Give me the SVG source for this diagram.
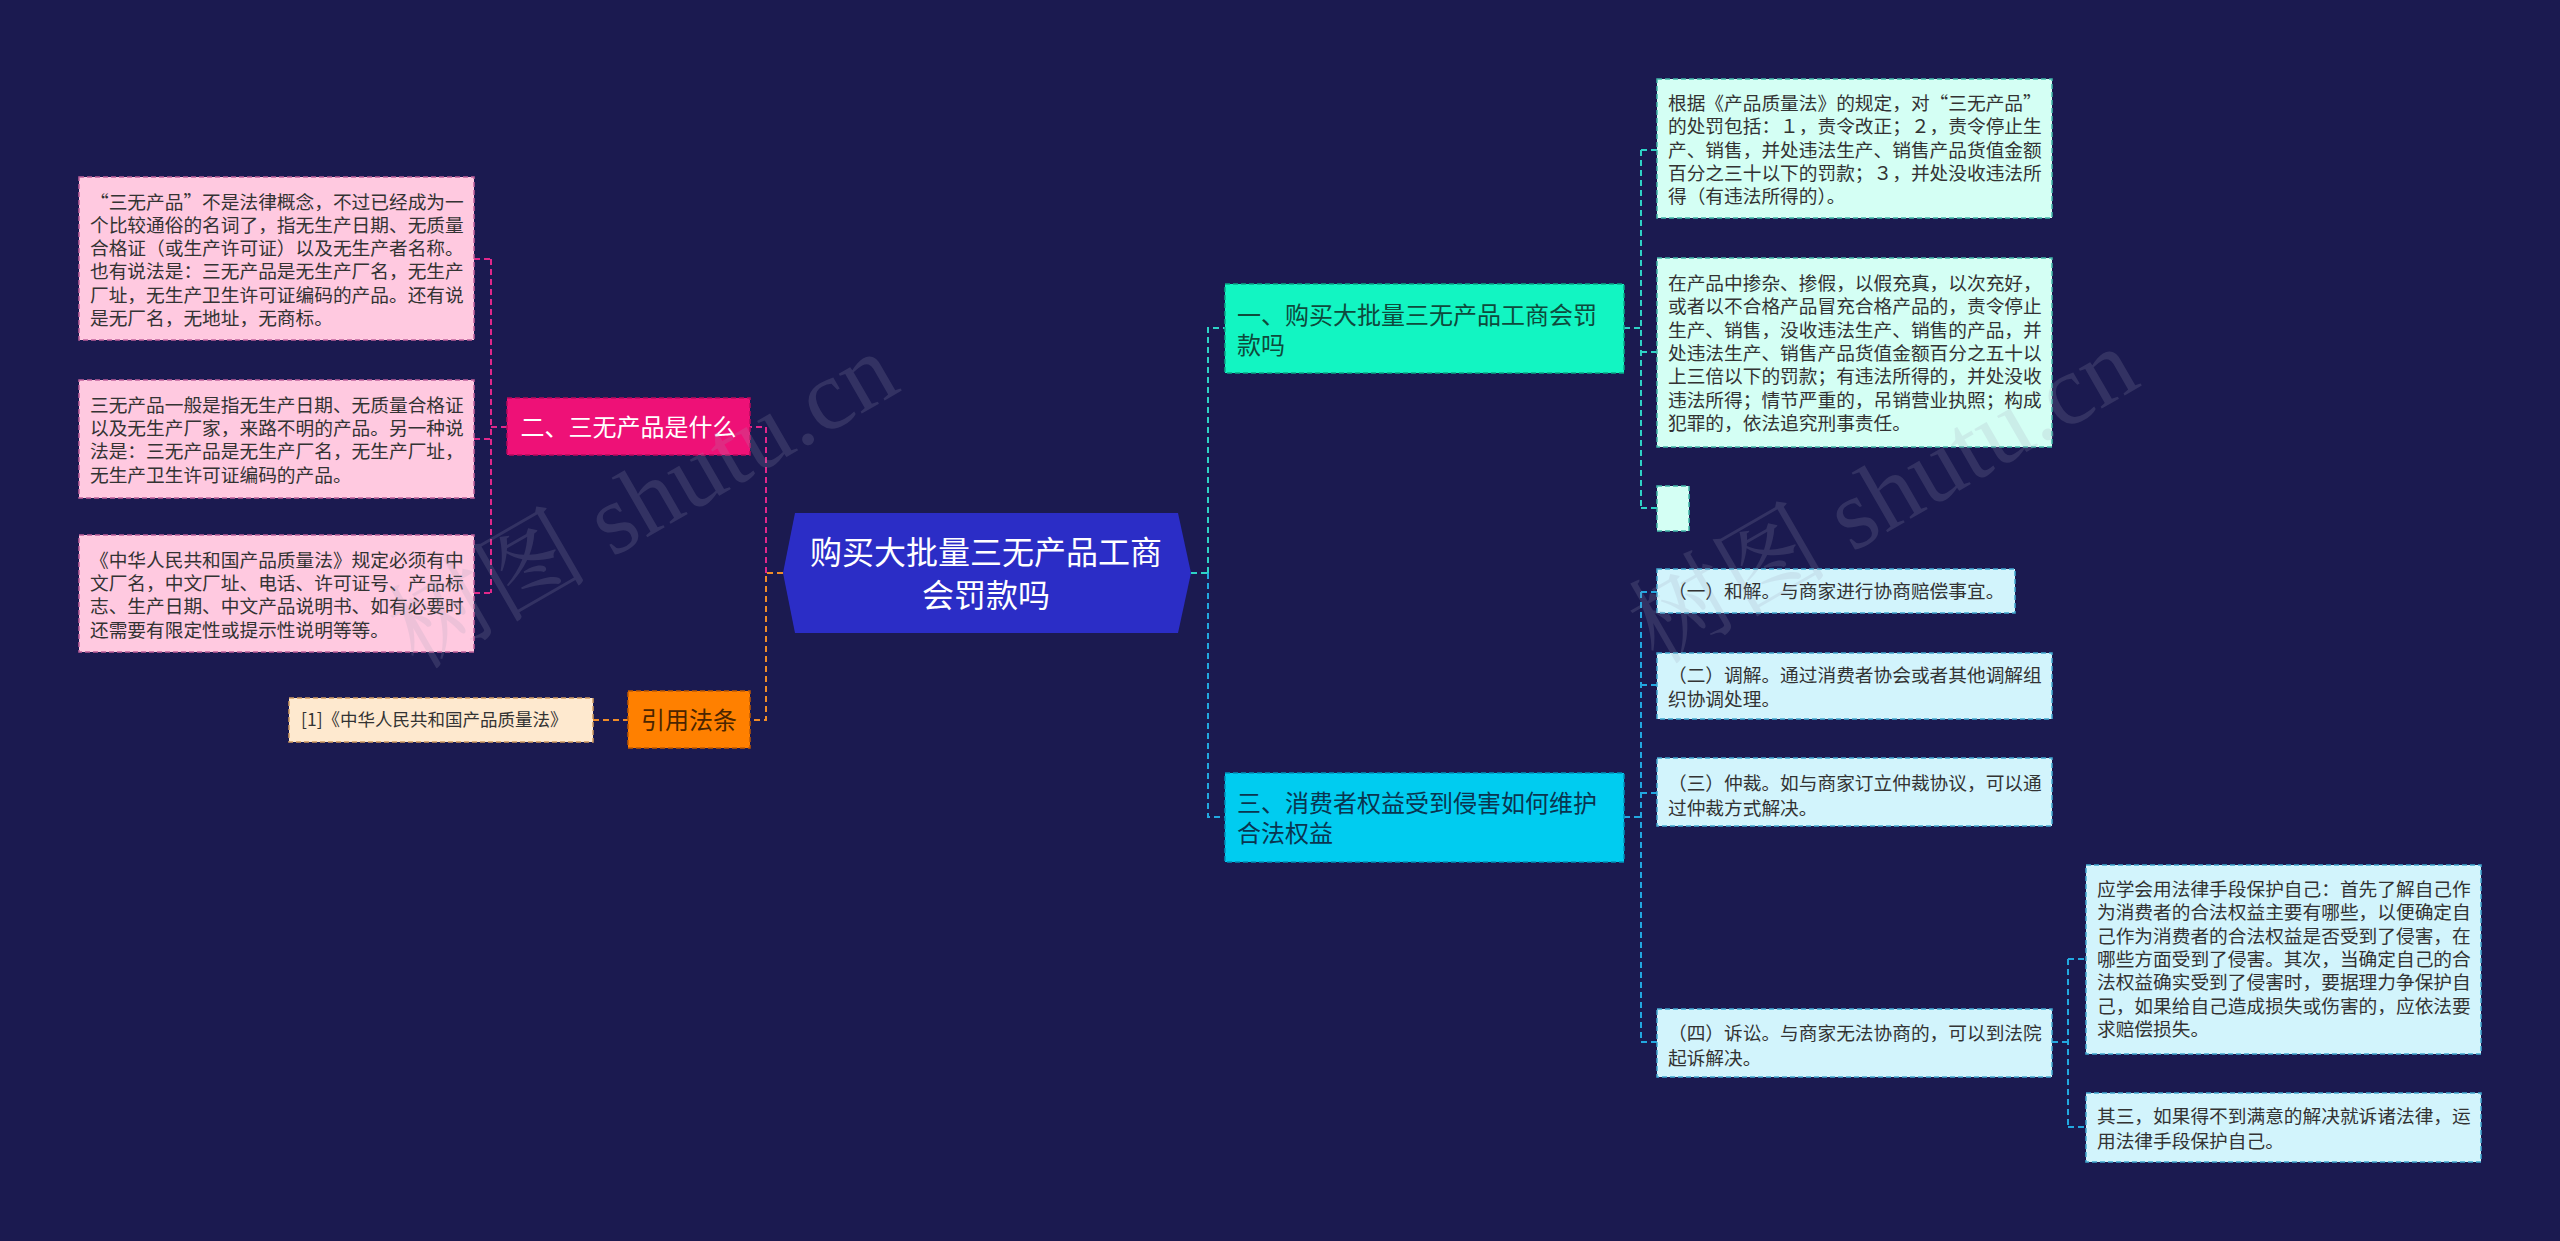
<svg xmlns="http://www.w3.org/2000/svg" width="2560" height="1241" viewBox="0 0 2560 1241">
<style>
text{font-family:"Noto Sans CJK SC","Noto Sans",sans-serif}
.leaf{font-size:18.7px;fill:#333}
.c{fill:none;stroke-width:2;stroke-dasharray:6 4}
.pk{stroke:#e0288a}.or{stroke:#f08c28}.tl{stroke:#2ed3c6}.bl{stroke:#22a8e0}
.bd{stroke-width:1.5;stroke-dasharray:5 3}
.wm{font-family:"Liberation Serif","Noto Serif CJK SC","Noto Sans CJK SC",serif;font-size:100px;fill:#a0a0b8;opacity:0.18}
</style>
<rect width="2560" height="1241" fill="#1b1a50"/>
<g id="connectors">
<path class="c or" d="M783,573 H766 V720 H750"/>
<path class="c pk" d="M766,573 V427 H750"/>
<path class="c pk" d="M507,427 H491 M491,259 V593 M474,259 H491 M474,439 H491 M474,593 H491"/>
<path class="c or" d="M593,720 H628"/>
<path class="c tl" d="M1191,573 H1208 M1208,573 V328 H1225"/>
<path class="c bl" d="M1208,573 V817 H1225"/>
<path class="c tl" d="M1624,328 H1641 M1641,150 V508 M1641,150 H1657 M1641,352 H1657 M1641,508 H1657"/>
<path class="c bl" d="M1624,817 H1641 M1641,592 V1042 M1641,592 H1657 M1641,685 H1657 M1641,793 H1657 M1641,1042 H1657"/>
<path class="c bl" d="M2052,1042 H2068 M2068,959 V1127 M2068,959 H2086 M2068,1127 H2086"/>
</g>
<g id="center">
<polygon points="795,513 1178,513 1191,573 1178,633 795,633 783,573" fill="#2b2dc6"/>
<text x="986" y="563.5" font-size="32" fill="#fff" text-anchor="middle">购买大批量三无产品工商</text>
<text x="986" y="606.5" font-size="32" fill="#fff" text-anchor="middle">会罚款吗</text>
</g>
<g id="b2">
<rect x="507" y="398" width="243" height="57" fill="#ee1177" stroke="#b80a5c" class="bd"/>
<text x="628.5" y="435.6" font-size="24" fill="#fff" text-anchor="middle">二、三无产品是什么</text>
</g>
<g id="b2l1">
<rect x="79" y="177" width="395" height="163" fill="#ffc9e0" stroke="#c0609a" class="bd"/>
<text class="leaf"><tspan x="90" y="208.5">“三无产品”不是法律概念，不过已经成为一</tspan><tspan x="90" dy="23.3">个比较通俗的名词了，指无生产日期、无质量</tspan><tspan x="90" dy="23.3">合格证（或生产许可证）以及无生产者名称。</tspan><tspan x="90" dy="23.3">也有说法是：三无产品是无生产厂名，无生产</tspan><tspan x="90" dy="23.3">厂址，无生产卫生许可证编码的产品。还有说</tspan><tspan x="90" dy="23.3">是无厂名，无地址，无商标。</tspan></text>
</g>
<g id="b2l2">
<rect x="79" y="380" width="395" height="118" fill="#ffc9e0" stroke="#c0609a" class="bd"/>
<text class="leaf"><tspan x="90" y="411.7">三无产品一般是指无生产日期、无质量合格证</tspan><tspan x="90" dy="23.3">以及无生产厂家，来路不明的产品。另一种说</tspan><tspan x="90" dy="23.3">法是：三无产品是无生产厂名，无生产厂址，</tspan><tspan x="90" dy="23.3">无生产卫生许可证编码的产品。</tspan></text>
</g>
<g id="b2l3">
<rect x="79" y="535" width="395" height="117" fill="#ffc9e0" stroke="#c0609a" class="bd"/>
<text class="leaf"><tspan x="90" y="566.7">《中华人民共和国产品质量法》规定必须有中</tspan><tspan x="90" dy="23.3">文厂名，中文厂址、电话、许可证号、产品标</tspan><tspan x="90" dy="23.3">志、生产日期、中文产品说明书、如有必要时</tspan><tspan x="90" dy="23.3">还需要有限定性或提示性说明等等。</tspan></text>
</g>
<g id="cite">
<rect x="628" y="691" width="122" height="57" fill="#ff8000" stroke="#c05a00" class="bd"/>
<text x="689" y="728.6" font-size="24" fill="#4a2500" text-anchor="middle">引用法条</text>
</g>
<g id="citel">
<rect x="289" y="698" width="304" height="44" fill="#fee9cf" stroke="#d09a60" class="bd"/>
<text x="301" y="726.3" font-size="17.5" fill="#333">[1]《中华人民共和国产品质量法》</text>
</g>
<g id="b1">
<rect x="1225" y="284" width="399" height="89" fill="#12f5c2" stroke="#0aa888" class="bd"/>
<text font-size="24" fill="#0e4a3c"><tspan x="1237" y="323.6">一、购买大批量三无产品工商会罚</tspan><tspan x="1237" dy="30">款吗</tspan></text>
</g>
<g id="b1l1">
<rect x="1657" y="79" width="395" height="139" fill="#d4fff4" stroke="#40b8a8" class="bd"/>
<text class="leaf"><tspan x="1668" y="110">根据《产品质量法》的规定，对“三无产品”</tspan><tspan x="1668" dy="23.3">的处罚包括：１，责令改正；２，责令停止生</tspan><tspan x="1668" dy="23.3">产、销售，并处违法生产、销售产品货值金额</tspan><tspan x="1668" dy="23.3">百分之三十以下的罚款；３，并处没收违法所</tspan><tspan x="1668" dy="23.3">得（有违法所得的）。</tspan></text>
</g>
<g id="b1l2">
<rect x="1657" y="258" width="395" height="189" fill="#d4fff4" stroke="#40b8a8" class="bd"/>
<text class="leaf"><tspan x="1668" y="290">在产品中掺杂、掺假，以假充真，以次充好，</tspan><tspan x="1668" dy="23.3">或者以不合格产品冒充合格产品的，责令停止</tspan><tspan x="1668" dy="23.3">生产、销售，没收违法生产、销售的产品，并</tspan><tspan x="1668" dy="23.3">处违法生产、销售产品货值金额百分之五十以</tspan><tspan x="1668" dy="23.3">上三倍以下的罚款；有违法所得的，并处没收</tspan><tspan x="1668" dy="23.3">违法所得；情节严重的，吊销营业执照；构成</tspan><tspan x="1668" dy="23.3">犯罪的，依法追究刑事责任。</tspan></text>
</g>
<g id="b1l3">
<rect x="1657" y="486" width="32" height="45" fill="#d4fff4" stroke="#40b8a8" class="bd"/>
</g>
<g id="b3">
<rect x="1225" y="773" width="399" height="89" fill="#00ccf0" stroke="#0090b8" class="bd"/>
<text font-size="24" fill="#0a3550"><tspan x="1237" y="811.6">三、消费者权益受到侵害如何维护</tspan><tspan x="1237" dy="30">合法权益</tspan></text>
</g>
<g id="b3l1">
<rect x="1657" y="569" width="358" height="44" fill="#d2f4fc" stroke="#40a8d0" class="bd"/>
<text class="leaf" x="1668" y="598.4">（一）和解。与商家进行协商赔偿事宜。</text>
</g>
<g id="b3l2">
<rect x="1657" y="653" width="395" height="66" fill="#d2f4fc" stroke="#40a8d0" class="bd"/>
<text class="leaf"><tspan x="1668" y="681.7">（二）调解。通过消费者协会或者其他调解组</tspan><tspan x="1668" dy="24.6">织协调处理。</tspan></text>
</g>
<g id="b3l3">
<rect x="1657" y="758" width="395" height="68" fill="#d2f4fc" stroke="#40a8d0" class="bd"/>
<text class="leaf"><tspan x="1668" y="790">（三）仲裁。如与商家订立仲裁协议，可以通</tspan><tspan x="1668" dy="24.6">过仲裁方式解决。</tspan></text>
</g>
<g id="b3l4">
<rect x="1657" y="1009" width="395" height="68" fill="#d2f4fc" stroke="#40a8d0" class="bd"/>
<text class="leaf"><tspan x="1668" y="1040">（四）诉讼。与商家无法协商的，可以到法院</tspan><tspan x="1668" dy="24.6">起诉解决。</tspan></text>
</g>
<g id="b3l4a">
<rect x="2086" y="865" width="395" height="189" fill="#d2f4fc" stroke="#40a8d0" class="bd"/>
<text class="leaf"><tspan x="2097" y="896">应学会用法律手段保护自己：首先了解自己作</tspan><tspan x="2097" dy="23.3">为消费者的合法权益主要有哪些，以便确定自</tspan><tspan x="2097" dy="23.3">己作为消费者的合法权益是否受到了侵害，在</tspan><tspan x="2097" dy="23.3">哪些方面受到了侵害。其次，当确定自己的合</tspan><tspan x="2097" dy="23.3">法权益确实受到了侵害时，要据理力争保护自</tspan><tspan x="2097" dy="23.3">己，如果给自己造成损失或伤害的，应依法要</tspan><tspan x="2097" dy="23.3">求赔偿损失。</tspan></text>
</g>
<g id="b3l4b">
<rect x="2086" y="1093" width="395" height="69" fill="#d2f4fc" stroke="#40a8d0" class="bd"/>
<text class="leaf"><tspan x="2097" y="1123.4">其三，如果得不到满意的解决就诉诸法律，运</tspan><tspan x="2097" dy="24.6">用法律手段保护自己。</tspan></text>
</g>
<g id="watermark">
<text class="wm" x="660" y="530" text-anchor="middle" transform="rotate(-30 660 530)">树图 shutu.cn</text>
<text class="wm" x="1900" y="525" text-anchor="middle" transform="rotate(-30 1900 525)">树图 shutu.cn</text>
</g>
</svg>
